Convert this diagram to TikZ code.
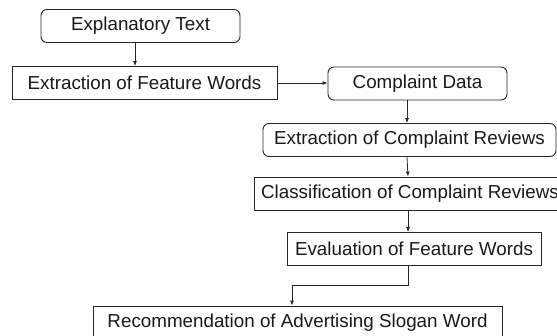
\documentclass[tikz,border=0pt]{standalone}
\usepackage{fontspec}
\setmainfont{Liberation Sans}
\usepackage{tikz}
\usetikzlibrary{arrows.meta}

\tikzset{
  flowbox/.style={draw=black!85, line width=0.9pt, minimum height=33pt,
    inner sep=0pt, text=black!90, font=\fontsize{18.8}{22}\selectfont},
  roundbox/.style={flowbox, rounded corners=6pt},
  flowarrow/.style={-{Latex[length=5pt,width=4pt]}, line width=0.8pt, black!85},
}

\begin{document}
\begin{tikzpicture}[x=1pt, y=-1pt]
  \useasboundingbox (0,0) rectangle (557,335);
  % left column
  \node[roundbox, minimum width=199pt] (expl) at (140.5,26) {Explanatory Text};
  \node[flowbox, minimum width=265pt] (featext) at (144.5,83) {Extraction of Feature Words};
  % right column
  \node[roundbox, minimum width=179pt] (compdata) at (417.5,83.5) {Complaint Data};
  \node[roundbox, minimum width=293pt] (compext) at (409.5,140) {Extraction of Complaint Reviews};
  \node[flowbox, minimum width=312pt] (compclass) at (410,193.5) {Classification of Complaint Reviews};
  \node[flowbox, minimum width=254pt] (evalfeat) at (414,249) {Evaluation of Feature Words};
  \node[flowbox, minimum width=409pt] (recomm) at (297.5,322.5) {Recommendation of Advertising Slogan Word};

  \draw[flowarrow] ([xshift=-5.5pt]expl.south) -- ([xshift=-9.5pt]featext.north);
  \draw[flowarrow] (featext.east) -- (compdata.west |- featext.east);
  \draw[flowarrow] ([xshift=-10.5pt]compdata.south) -- ([xshift=-2.5pt]compext.north);
  \draw[flowarrow] ([xshift=-2.5pt]compext.south) -- ([xshift=-2pt]compclass.north);
  \draw[flowarrow] ([xshift=-2pt]compclass.south) -- ([xshift=-6pt]evalfeat.north);
  \coordinate (bend) at (408,285);
  \draw[flowarrow] ([xshift=-6pt]evalfeat.south) -- (bend) -| ([xshift=-5.5pt]recomm.north);
\end{tikzpicture}
\end{document}
